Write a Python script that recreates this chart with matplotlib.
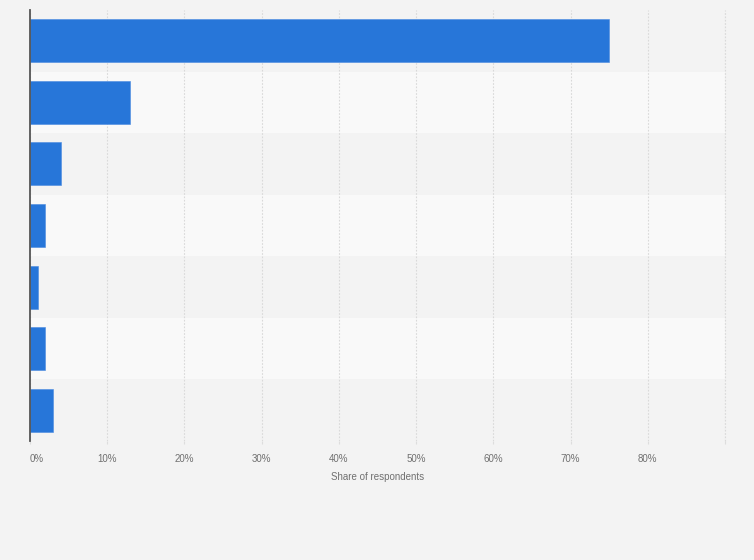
import numpy as np
import matplotlib.pyplot as plt

# values (share of respondents, %)
categories = ['A', 'B', 'C', 'D', 'E', 'F', 'G']
shares = [75, 13, 4, 2, 1, 2, 3]
tick_vals = [0, 10, 20, 30, 40, 50, 60, 70, 80, 90]
tick_labels = ['0%', '10%', '20%', '30%', '40%', '50%', '60%', '70%', '80%', '']

bg = '#f3f3f3'
band_light = '#f9f9f9'
bar_color = '#2776d9'
grid_color = '#d9d9d9'

fig = plt.figure(figsize=(7.54, 5.6), dpi=100, facecolor=bg)
ax = fig.add_axes([30 / 754, 1 - 441 / 560, 695 / 754, 431 / 560])
ax.set_facecolor(bg)

n = len(categories)
y = np.arange(n)

# alternating row bands
for i in range(n):
    if i % 2 == 1:
        ax.axhspan(i - 0.5, i + 0.5, color=band_light, zorder=0, lw=0)

ax.barh(y, shares, height=0.7, color=bar_color, edgecolor='#4a8ae0',
        linewidth=0.4, zorder=3)

ax.set_xlim(0, 90)
ax.set_ylim(n - 0.5, -0.5)

ax.set_xticks(tick_vals)
ax.set_xticklabels(tick_labels, fontsize=7, color='#707070', family='Liberation Sans')
ax.get_xticklabels()[0].set_ha('left')
ax.tick_params(axis='x', length=2, color='#dddddd', pad=7)
ax.set_yticks([])
ax.xaxis.grid(True, color=grid_color, linestyle=(0, (1.5, 1.5)), linewidth=0.8, zorder=1)
ax.axvline(tick_vals[-1], color=grid_color, linestyle=(0, (1.5, 1.5)),
           linewidth=0.8, zorder=1, clip_on=False)
ax.set_axisbelow(True)

for s in ['top', 'right', 'bottom']:
    ax.spines[s].set_visible(False)
ax.spines['left'].set_color('#555555')
ax.spines['left'].set_linewidth(1.3)
ax.spines['left'].set_zorder(5)

ax.set_xlabel('Share of respondents', fontsize=7, color='#707070',
              family='Liberation Sans', labelpad=6)

fig.savefig('out.png', dpi=100, facecolor=bg)
